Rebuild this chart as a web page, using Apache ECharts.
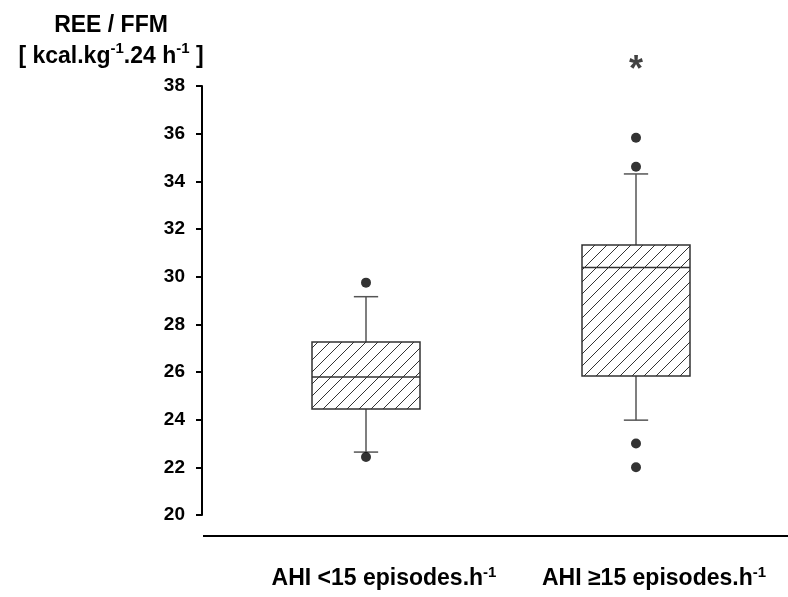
<!DOCTYPE html>
<html><head><meta charset="utf-8">
<script src="https://cdn.jsdelivr.net/npm/echarts@6/dist/echarts.min.js"></script>
<style>html,body{margin:0;padding:0;background:#fff}#c{width:788px;height:597px}</style>
</head><body><div id="c"></div>
<script>
// ---- data ----
const categories = ['AHI <15 episodes.h-1', 'AHI \u226515 episodes.h-1'];
const whiskerLow = [22.64, 23.98];
const q1 = [24.45, 25.83];
const median = [25.79, 30.38];
const q3 = [27.26, 31.33];
const whiskerHigh = [29.16, 34.31];
const outliers = [[0, 29.75], [0, 22.43], [1, 35.83], [1, 34.61], [1, 23.0], [1, 22.0]];
const significance = [[1, 38.95]];
const yMin = 20, yMax = 38, yInterval = 2;

// ---- hatch pattern ----
function makeHatch() {
  const s = 12;
  const c = document.createElement('canvas');
  c.width = s; c.height = s;
  const g = c.getContext('2d');
  g.fillStyle = '#fff'; g.fillRect(0, 0, s, s);
  g.strokeStyle = '#333'; g.lineWidth = 1;
  g.beginPath();
  g.moveTo(-2, s + 2); g.lineTo(s + 2, -2);
  g.moveTo(-2, 2); g.lineTo(2, -2);
  g.moveTo(s - 2, s + 2); g.lineTo(s + 2, s - 2);
  g.stroke();
  return c;
}
const hatch = { image: makeHatch(), repeat: 'repeat' };

const boxData = categories.map((c, i) => [i, whiskerLow[i], q1[i], median[i], q3[i], whiskerHigh[i]]);

function renderItem(params, api) {
  const x = api.value(0);
  const band = api.size([1, 0])[0];
  const bw = band * 0.4, cw = band * 0.09;
  const pLow = api.coord([x, api.value(1)]);
  const pQ1 = api.coord([x, api.value(2)]);
  const pMed = api.coord([x, api.value(3)]);
  const pQ3 = api.coord([x, api.value(4)]);
  const pHigh = api.coord([x, api.value(5)]);
  const cx = pQ1[0];
  const ws = { stroke: '#555', lineWidth: 1.5 };
  return { type: 'group', children: [
    { type: 'line', shape: { x1: cx, y1: pQ3[1], x2: cx, y2: pHigh[1] }, style: ws },
    { type: 'line', shape: { x1: cx - cw / 2, y1: pHigh[1], x2: cx + cw / 2, y2: pHigh[1] }, style: ws },
    { type: 'line', shape: { x1: cx, y1: pQ1[1], x2: cx, y2: pLow[1] }, style: ws },
    { type: 'line', shape: { x1: cx - cw / 2, y1: pLow[1], x2: cx + cw / 2, y2: pLow[1] }, style: ws },
    { type: 'rect', shape: { x: cx - bw / 2, y: pQ3[1], width: bw, height: pQ1[1] - pQ3[1] },
      style: { fill: hatch, stroke: '#333', lineWidth: 1.5 } },
    { type: 'line', shape: { x1: cx - bw / 2, y1: pMed[1], x2: cx + bw / 2, y2: pMed[1] }, style: { stroke: '#333', lineWidth: 1.5 } }
  ]};
}

const FONT = '"Liberation Sans", Arial, sans-serif';
const chart = echarts.init(document.getElementById('c'), null, { renderer: 'canvas' });
chart.setOption({
  animation: false,
  backgroundColor: '#fff',
  title: {
    text: 'REE / FFM\n[ kcal.kg{s|-1}.24 h{s|-1} ]',
    left: 106, top: 5, textAlign: 'center',
    textStyle: {
      fontFamily: FONT, fontSize: 23, fontWeight: 'bold', color: '#000', lineHeight: 31,
      rich: { s: { fontFamily: FONT, fontSize: 15, fontWeight: 'bold', color: '#000', verticalAlign: 'top', lineHeight: 19 } }
    }
  },
  grid: { left: 231, right: 17, top: 86, bottom: 82, containLabel: false },
  xAxis: {
    type: 'category', data: categories,
    axisLine: { show: false }, axisTick: { show: false },
    axisLabel: {
      margin: 50, padding: [0, 0, 0, 36], interval: 0,
      fontFamily: FONT, fontSize: 23, fontWeight: 'bold', color: '#000', lineHeight: 28,
      formatter: v => v.replace('h-1', 'h{s|-1}'),
      rich: { s: { fontFamily: FONT, fontSize: 15, fontWeight: 'bold', color: '#000', verticalAlign: 'top', lineHeight: 20 } }
    }
  },
  yAxis: {
    type: 'value', min: yMin, max: yMax, interval: yInterval, offset: 29,
    axisLine: { show: true, lineStyle: { color: '#000', width: 2 } },
    axisTick: { show: true, inside: false, length: 6, lineStyle: { color: '#000', width: 2 } },
    splitLine: { show: false },
    axisLabel: { margin: 17, fontFamily: FONT, fontSize: 19, fontWeight: 'bold', color: '#000' }
  },
  graphic: [{
    type: 'line', shape: { x1: 203, y1: 536, x2: 788, y2: 536 },
    style: { stroke: '#000', lineWidth: 2 }, z: 10
  }],
  series: [
    { type: 'custom', renderItem: renderItem, data: boxData, encode: { x: 0, y: [1, 2, 3, 4, 5] }, z: 2 },
    { type: 'scatter', data: outliers, symbol: 'circle', symbolSize: 10, itemStyle: { color: '#000' }, z: 3 },
    { type: 'scatter', data: significance, symbolSize: 1, clip: false, itemStyle: { color: 'rgba(0,0,0,0)' },
      label: { show: true, position: 'inside', formatter: '*', fontFamily: FONT, fontSize: 36, fontWeight: 'bold', color: '#111', offset: [0, 8] }, z: 4 }
  ]
});
</script></body></html>
